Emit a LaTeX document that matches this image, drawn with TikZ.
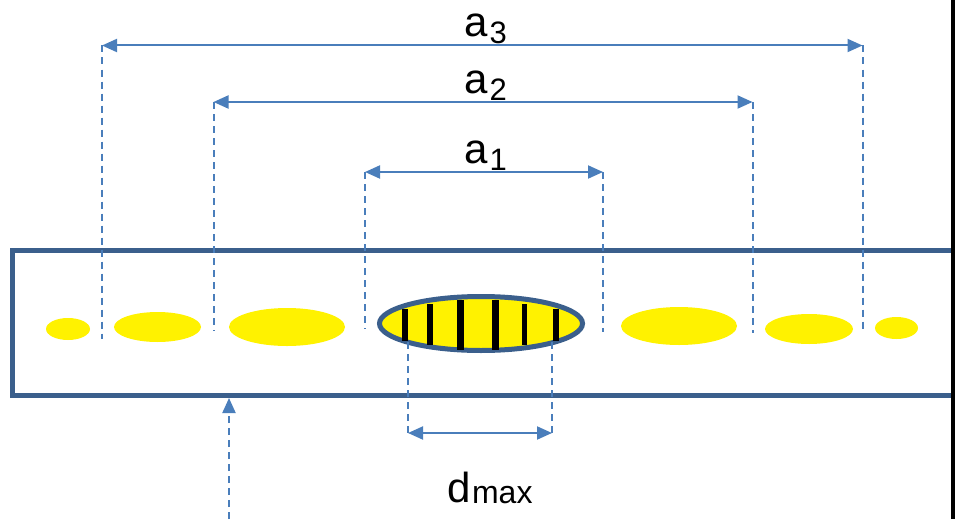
\documentclass[tikz,border=0pt]{standalone}
\usepackage{fontspec}
\setmainfont{Liberation Sans}
\usetikzlibrary{positioning,arrows.meta,shapes.geometric}
\definecolor{frameblue}{HTML}{3B5F8C}
\definecolor{dimblue}{HTML}{4A7EBB}

\begin{document}
\begin{tikzpicture}[x=1pt,y=-1pt,
  blob/.style={ellipse,fill=yellow,inner sep=0pt},
  guide/.style={dimblue,line width=2pt,dash pattern=on 7pt off 5pt},
  dimline/.style={dimblue,line width=2pt,{Triangle[length=15pt,width=13pt]}-{Triangle[length=15pt,width=13pt]}},
  lbl/.style={anchor=base west,inner sep=0pt,font=\fontsize{42}{50}\selectfont}]
\useasboundingbox (0,0) rectangle (955,519);
% channel
\draw[frameblue,line width=5pt] (951,250) -- (12,250) -- (12,395) -- (951,395);
\fill (951,0) rectangle (955,519);
% drops
\node[blob,minimum width=44pt,minimum height=22pt] (e1) at (68,329) {};
\node[blob,minimum width=87pt,minimum height=30pt] (e2) at (157.5,327) {};
\node[blob,minimum width=116pt,minimum height=38pt] (e3) at (287,327) {};
\node[blob,minimum width=116pt,minimum height=38pt] (e4) at (679,326) {};
\node[blob,minimum width=88pt,minimum height=30pt] (e5) at (809,329) {};
\node[blob,minimum width=43pt,minimum height=22pt] (e6) at (896.5,328) {};
\node[ellipse,draw=frameblue,line width=5pt,fill=yellow,inner sep=0pt,
  minimum width=203pt,minimum height=54pt] (core) at (481,323.5) {};
\foreach \x/\h/\w in {405/16/6,430/20.5/5.5,460.5/25/6.5,495.5/25/6.5,524.5/20.5/5.5,556/16/6.5}{
  \fill (\x-\w/2,324.5-\h) rectangle (\x+\w/2,324.5+\h);
}
% spacings
\foreach \n/\xl/\xr/\y/\bl/\br in {3/102/862.5/45.5/339/333,2/213.5/752.5/102/331/333,1/365/603/172/329/332}{
  \coordinate (a\n L) at (\xl,\y);
  \coordinate (a\n R) at (\xr,\y);
  \coordinate (a\n Lf) at (\xl,\bl);
  \coordinate (a\n Rf) at (\xr,\br);
  \draw[guide] (a\n L) -- (a\n Lf);
  \draw[guide] (a\n R) -- (a\n Rf);
  \draw[dimline] (a\n L) -- (a\n R);
  \node[lbl] (la\n) at (464,\y-9) {a\kern2pt\raisebox{-7pt}{\fontsize{31}{31}\selectfont\n}};
}
% width of the core
\coordinate (dLt) at (408,342);
\coordinate (dRt) at (552,342);
\coordinate (dL) at (408,437);
\coordinate (dR) at (552,437);
\draw[guide] (dLt) -- (dL);
\draw[guide] (dRt) -- (dR);
\draw[dimline] ([yshift=4pt]dL) -- ([yshift=4pt]dR);
\node[lbl] (ldmax) at (447.5,502) {d\kern1pt\raisebox{-1pt}{\fontsize{32}{32}\selectfont max}};
% inlet
\coordinate (feed) at (229,519);
\coordinate (wall) at (229,398);
\draw[guide,-{Triangle[length=15pt,width=13pt]}] (feed) -- (wall);
\end{tikzpicture}
\end{document}
